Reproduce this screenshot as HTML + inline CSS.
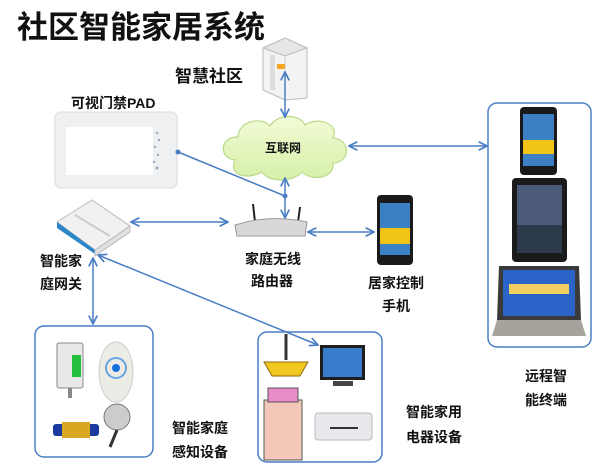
<!DOCTYPE html>
<html><head><meta charset="utf-8"><style>
html,body{margin:0;padding:0;background:#fff}
svg{display:block}
text{font-family:"Liberation Sans","Noto Sans CJK SC",sans-serif;font-weight:bold;fill:#111}
</style></head><body>
<svg width="600" height="468" viewBox="0 0 600 468" xmlns="http://www.w3.org/2000/svg">
<defs>
<marker id="a" viewBox="0 0 10 10" refX="9" refY="5" markerWidth="7" markerHeight="7" orient="auto-start-reverse"><path d="M1,1 L9,5 L1,9" fill="none" stroke="#4a7ec4" stroke-width="1.6"/></marker>
<linearGradient id="cl" x1="0" y1="0" x2="0" y2="1"><stop offset="0" stop-color="#f2fbd6"/><stop offset="1" stop-color="#d6f0a8"/></linearGradient>
</defs>
<text x="17" y="38" font-size="31">社区智能家居系统</text>
<text x="175" y="82" font-size="17">智慧社区</text>
<text x="71" y="108" font-size="14">可视门禁PAD</text>

<!-- server -->
<polygon points="263,48 285,38 307,48 307,98 285,100 263,90" fill="#f3f3f3" stroke="#bbb"/>
<polygon points="263,48 285,38 307,48 285,56" fill="#e6e6e6" stroke="#bbb"/>
<line x1="285" y1="56" x2="285" y2="100" stroke="#ccc"/>
<rect x="270" y="55" width="5" height="35" fill="#ddd"/>
<rect x="277" y="64" width="8" height="5" fill="#f5a623"/>

<!-- PAD -->
<rect x="55" y="112" width="122" height="76" rx="6" fill="#eef0f2" stroke="#dcdcdc"/>
<rect x="66" y="127" width="87" height="48" fill="#fff"/>
<g fill="#9aa8c0"><circle cx="157" cy="133" r="1.2"/><circle cx="159" cy="140" r="1.2"/><circle cx="155" cy="147" r="1.2"/><circle cx="158" cy="155" r="1.2"/><circle cx="154" cy="162" r="1.2"/><circle cx="157" cy="168" r="1.5"/></g>

<!-- cloud -->
<path d="M235,160 C218,158 220,136 238,137 C238,121 262,116 270,126 C278,113 300,114 305,125 C318,116 340,124 333,138 C352,140 350,163 333,163 C335,178 312,182 302,172 C292,183 268,182 262,172 C248,180 228,176 235,160 Z" fill="url(#cl)" stroke="#b9d98a" stroke-width="1.2"/>
<text x="265" y="152" font-size="12">互联网</text>

<!-- connectors -->
<g stroke="#4a7ec4" stroke-width="1.5" fill="none">
<line x1="285" y1="72" x2="285" y2="117" marker-start="url(#a)" marker-end="url(#a)"/>
<line x1="349" y1="146" x2="487" y2="146" marker-start="url(#a)" marker-end="url(#a)"/>
<line x1="285" y1="178" x2="285" y2="218" marker-start="url(#a)" marker-end="url(#a)"/>
<line x1="178" y1="152" x2="285" y2="196"/>
<line x1="131" y1="222" x2="228" y2="222" marker-start="url(#a)" marker-end="url(#a)"/>
<line x1="308" y1="232" x2="374" y2="232" marker-start="url(#a)" marker-end="url(#a)"/>
<line x1="93" y1="258" x2="93" y2="324" marker-start="url(#a)" marker-end="url(#a)"/>
<line x1="98" y1="255" x2="318" y2="345" marker-start="url(#a)" marker-end="url(#a)"/>
</g>
<circle cx="178" cy="152" r="2.5" fill="#4a7ec4"/>
<circle cx="285" cy="196" r="2.5" fill="#4a7ec4"/>

<!-- gateway -->
<polygon points="57,222 92,200 130,226 95,250" fill="#f1f1f1" stroke="#bbb"/>
<polygon points="57,222 95,250 95,254 57,228" fill="#2a86c8"/>
<polygon points="95,250 130,226 130,232 95,256" fill="#e0e0e0" stroke="#bbb"/>
<line x1="75" y1="215" x2="110" y2="236" stroke="#ccc" stroke-width="2"/>

<!-- router -->
<line x1="255" y1="222" x2="253" y2="204" stroke="#222" stroke-width="2"/>
<line x1="298" y1="222" x2="300" y2="207" stroke="#222" stroke-width="2"/>
<path d="M235,225 Q270,214 307,222 L305,236 L237,236 Z" fill="#d8d8d8" stroke="#999"/>

<!-- phone -->
<rect x="377" y="195" width="36" height="70" rx="4" fill="#1a1a1a"/>
<rect x="380" y="203" width="30" height="52" fill="#3b7fc4"/>
<rect x="380" y="228" width="30" height="16" fill="#f2c418"/>

<text x="40" y="266" font-size="14">智能家</text>
<text x="40" y="289" font-size="14">庭网关</text>
<text x="245" y="264" font-size="14">家庭无线</text>
<text x="251" y="286" font-size="14">路由器</text>
<text x="368" y="288" font-size="14">居家控制</text>
<text x="382" y="311" font-size="14">手机</text>

<!-- right box -->
<rect x="488" y="103" width="103" height="244" rx="9" fill="none" stroke="#4a7ec4" stroke-width="1.5"/>
<rect x="520" y="107" width="37" height="68" rx="4" fill="#1a1a1a"/>
<rect x="523" y="114" width="31" height="52" fill="#3b7fc4"/>
<rect x="523" y="140" width="31" height="14" fill="#f2c418"/>
<rect x="512" y="178" width="55" height="84" rx="4" fill="#1a1a1a"/>
<rect x="517" y="185" width="45" height="68" fill="#4a5a78"/>
<rect x="517" y="225" width="45" height="28" fill="#2c3a4c"/>
<polygon points="499,266 579,266 581,320 497,320" fill="#3a3a3a"/>
<rect x="503" y="270" width="72" height="46" fill="#2a64c8"/>
<rect x="509" y="284" width="60" height="10" fill="#f2d060"/>
<polygon points="497,320 581,320 586,336 492,336" fill="#a8a29c"/>

<text x="525" y="381" font-size="14">远程智</text>
<text x="525" y="405" font-size="14">能终端</text>

<!-- left box -->
<rect x="35" y="326" width="118" height="131" rx="9" fill="none" stroke="#4a7ec4" stroke-width="1.5"/>
<rect x="57" y="343" width="26" height="45" rx="2" fill="#e8e8e8" stroke="#888"/>
<rect x="72" y="355" width="9" height="22" fill="#22c03c"/>
<rect x="68" y="388" width="4" height="10" fill="#888"/>
<ellipse cx="116" cy="372" rx="17" ry="30" fill="#ecebe6" stroke="#ccc"/>
<circle cx="116" cy="368" r="10" fill="none" stroke="#6aa6e0" stroke-width="2"/>
<circle cx="116" cy="368" r="4" fill="#1a6fe0"/>
<rect x="53" y="424" width="46" height="12" rx="3" fill="#1a3aa0"/>
<rect x="62" y="422" width="28" height="16" fill="#d8a820"/>
<circle cx="117" cy="417" r="13" fill="#ccc" stroke="#777"/>
<line x1="117" y1="430" x2="110" y2="447" stroke="#333" stroke-width="3"/>
<text x="172" y="433" font-size="14">智能家庭</text>
<text x="172" y="457" font-size="14">感知设备</text>

<!-- mid box -->
<rect x="258" y="332" width="124" height="130" rx="9" fill="none" stroke="#4a7ec4" stroke-width="1.5"/>
<line x1="286" y1="334" x2="286" y2="360" stroke="#333" stroke-width="3"/>
<polygon points="264,362 308,362 300,376 272,376" fill="#f0c820" stroke="#8a6a10"/>
<rect x="320" y="345" width="45" height="35" fill="#1e1e1e"/>
<rect x="323" y="348" width="39" height="29" fill="#3a7ccc"/>
<rect x="333" y="381" width="20" height="5" fill="#444"/>
<rect x="264" y="400" width="38" height="60" fill="#f4c8b8" stroke="#555"/>
<rect x="268" y="388" width="30" height="14" fill="#e88cc8" stroke="#555"/>
<rect x="315" y="413" width="57" height="27" rx="3" fill="#e6e8ec" stroke="#bbb"/>
<line x1="330" y1="428" x2="358" y2="428" stroke="#333" stroke-width="2"/>

<text x="406" y="417" font-size="14">智能家用</text>
<text x="406" y="442" font-size="14">电器设备</text>
</svg>
</body></html>
